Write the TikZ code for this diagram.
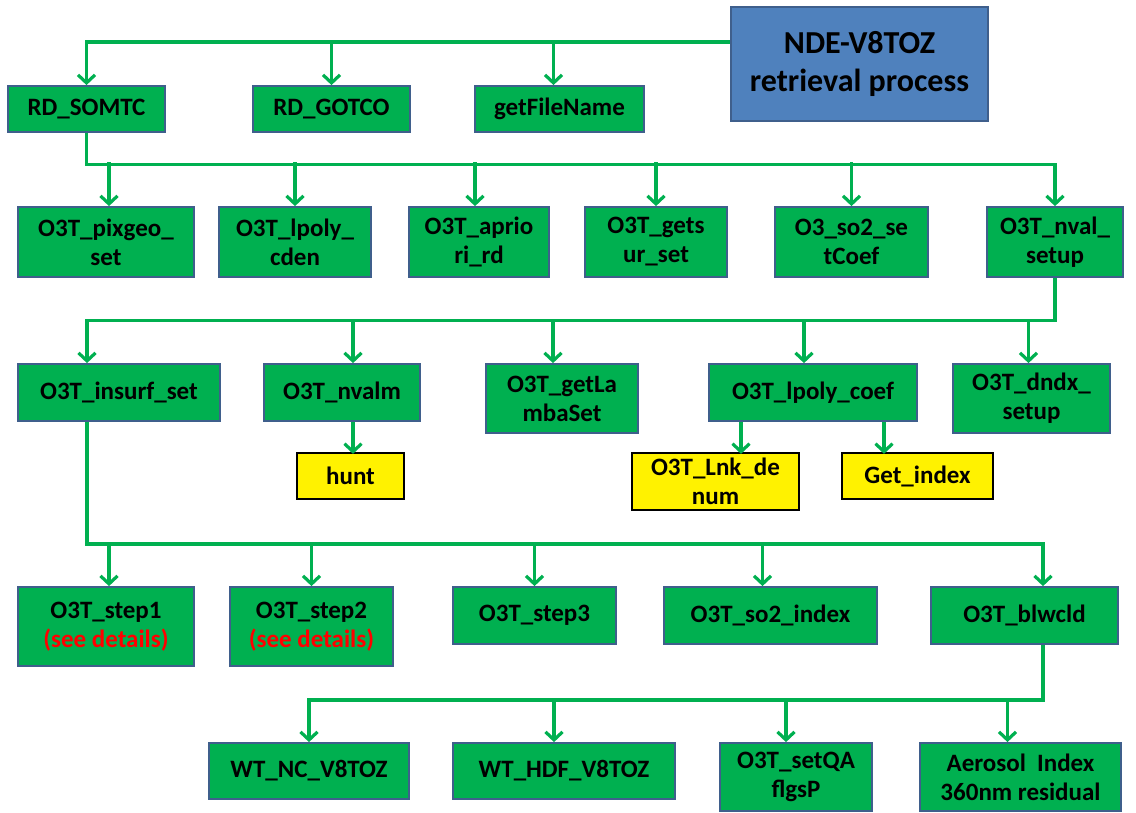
\documentclass[tikz,border=0pt]{standalone}
\usepackage{fontspec}
\setmainfont{Carlito}
\usetikzlibrary{arrows.meta}
\definecolor{procgreen}{HTML}{00B050}
\definecolor{procedge}{HTML}{3F5F8C}
\definecolor{mainblue}{HTML}{4F81BD}
\definecolor{flowgreen}{HTML}{00B050}
\newcommand{\boxfont}{\bfseries\fontsize{25}{29}\selectfont}
\newcommand{\mainfont}{\bfseries\fontsize{32}{38}\selectfont}
% arrow from the bus line (44 above the box) down into a box
\newcommand{\dropto}[2][0pt]{\draw[flow] ([xshift=#1]#2.north) ++(0,-44) -- ([xshift=#1]#2.north);}

\begin{document}
\begin{tikzpicture}[
  x=1pt, y=-1pt,
  >={Straight Barb[length=8pt,width=17pt]},
  proc/.style={draw=procedge, fill=procgreen, line width=1.8pt, inner sep=0pt,
    align=center, font=\boxfont},
  leaf/.style={proc, draw=black, fill=yellow},
  flow/.style={draw=flowgreen, line width=3.2pt, ->}
]
  \useasboundingbox (0,0) rectangle (1136,813);

  % Top
  \node[proc, fill=mainblue, font=\mainfont, minimum width=257pt, minimum height=114pt]
    (main) at (859.5,64) {NDE-V8TOZ\\retrieval process};
  \node[proc, minimum width=157pt, minimum height=46pt] (somtc) at (86.5,109) {RD\_SOMTC};
  \node[proc, minimum width=157pt, minimum height=46pt] (gotco) at (331.5,109) {RD\_GOTCO};
  \node[proc, minimum width=169pt, minimum height=46pt] (fname) at (559.5,109) {getFileName};

  % Under RD_SOMTC
  \node[proc, minimum width=176pt, minimum height=70pt] (pixgeo) at (106,242) {O3T\_pixgeo\_\\set};
  \node[proc, minimum width=152pt, minimum height=70pt] (lpolyc) at (295,242) {O3T\_lpoly\_\\cden};
  \node[proc, minimum width=140pt, minimum height=70pt] (apriori) at (479,242) {O3T\_aprio\\ri\_rd};
  \node[proc, minimum width=142pt, minimum height=70pt] (getsur) at (656,242) {O3T\_gets\\ur\_set};
  \node[proc, minimum width=153pt, minimum height=70pt] (so2set) at (851.5,242) {O3\_so2\_se\\tCoef};
  \node[proc, minimum width=136pt, minimum height=70pt] (nvalset) at (1055,242) {O3T\_nval\_\\setup};

  % Under O3T_nval_setup
  \node[proc, minimum width=202pt, minimum height=57pt] (insurf) at (119,392.5) {O3T\_insurf\_set};
  \node[proc, minimum width=156pt, minimum height=57pt] (nvalm) at (342,392.5) {O3T\_nvalm};
  \node[proc, minimum width=152pt, minimum height=69pt] (getlam) at (562,398.5) {O3T\_getLa\\mbaSet};
  \node[proc, minimum width=208pt, minimum height=57pt] (lpolycoef) at (813,392.5) {O3T\_lpoly\_coef};
  \node[proc, minimum width=157pt, minimum height=69pt] (dndx) at (1031.5,398.5) {O3T\_dndx\_\\setup};

  % Yellow leaves
  \node[leaf, minimum width=107pt, minimum height=46pt] (hunt) at (350.5,476) {hunt};
  \node[leaf, minimum width=167pt, minimum height=57pt] (lnk) at (715.5,481.5) {O3T\_Lnk\_de\\num};
  \node[leaf, minimum width=151pt, minimum height=46pt] (getidx) at (917.5,476) {Get\_index};

  % Under O3T_insurf_set
  \node[proc, minimum width=176pt, minimum height=79pt] (step1) at (106,626.5)
    {O3T\_step1\\\textcolor{red}{(see details)}};
  \node[proc, minimum width=163pt, minimum height=79pt] (step2) at (311.5,626.5)
    {O3T\_step2\\\textcolor{red}{(see details)}};
  \node[proc, minimum width=163pt, minimum height=57pt] (step3) at (534.5,615.5) {O3T\_step3};
  \node[proc, minimum width=213pt, minimum height=57pt] (so2idx) at (770.5,615.5) {O3T\_so2\_index};
  \node[proc, minimum width=187pt, minimum height=57pt] (blwcld) at (1024.5,615.5) {O3T\_blwcld};

  % Under O3T_blwcld
  \node[proc, minimum width=200pt, minimum height=56pt] (wtnc) at (309,771) {WT\_NC\_V8TOZ};
  \node[proc, minimum width=222pt, minimum height=56pt] (wthdf) at (564,771) {WT\_HDF\_V8TOZ};
  \node[proc, minimum width=152pt, minimum height=68pt] (setqa) at (796,777) {O3T\_setQA\\flgsP};
  \node[proc, minimum width=201pt, minimum height=68pt] (aerosol) at (1020.5,777)
    {Aerosol~ Index\\360nm residual};

  % Connectors
  \draw[flow] ([yshift=22pt]main.west) -| (somtc.north);
  \dropto{gotco}
  \dropto[-6pt]{fname}

  \draw[flow] (somtc.south) -- ++(0,32) -| (nvalset.north);
  \dropto[3pt]{pixgeo}
  \dropto{lpolyc}
  \dropto[-4pt]{apriori}
  \dropto{getsur}
  \dropto{so2set}

  \draw[flow] (nvalset.south) -- ++(0,43) -| ([xshift=-32pt]insurf.north);
  \dropto[11pt]{nvalm}
  \dropto[-9pt]{getlam}
  \dropto[-9pt]{lpolycoef}
  \dropto[-3pt]{dndx}

  \draw[flow] ([xshift=11pt]nvalm.south) -- ++(0,32);
  \draw[flow] ([xshift=-72pt]lpolycoef.south) -- ++(0,32);
  \draw[flow] ([xshift=71pt]lpolycoef.south) -- ++(0,32);

  \draw[flow] ([xshift=-32pt]insurf.south) -- ++(0,122) -| ([xshift=18.5pt]blwcld.north);
  \dropto[3pt]{step1}
  \dropto{step2}
  \dropto{step3}
  \dropto[-8pt]{so2idx}

  \draw[flow] ([xshift=18.5pt]blwcld.south) -- ++(0,55) -| (wtnc.north);
  \dropto[-10pt]{wthdf}
  \dropto[-10pt]{setqa}
  \dropto[-13pt]{aerosol}
\end{tikzpicture}
\end{document}
